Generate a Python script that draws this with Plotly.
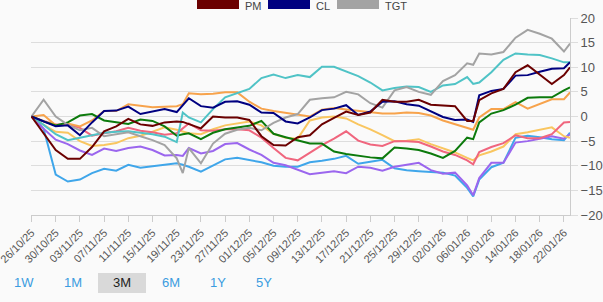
import plotly.graph_objects as go

dates = ["2025-10-26", "2025-10-28", "2025-10-30", "2025-11-01", "2025-11-03", "2025-11-05",
         "2025-11-07", "2025-11-09", "2025-11-11", "2025-11-13", "2025-11-15", "2025-11-17",
         "2025-11-19", "2025-11-20", "2025-11-21", "2025-11-23", "2025-11-25", "2025-11-27",
         "2025-11-29", "2025-12-01", "2025-12-03", "2025-12-05", "2025-12-07", "2025-12-09",
         "2025-12-11", "2025-12-13", "2025-12-15", "2025-12-17", "2025-12-19", "2025-12-21",
         "2025-12-23", "2025-12-25", "2025-12-27", "2025-12-29", "2025-12-31", "2026-01-02",
         "2026-01-04", "2026-01-06", "2026-01-07", "2026-01-08", "2026-01-10", "2026-01-12",
         "2026-01-14", "2026-01-16", "2026-01-18", "2026-01-20", "2026-01-22", "2026-01-23"]

pm = [0, -3.5, -6.8, -8.6, -8.6, -6.2, -3.0, -2.0, -0.5, -1.6, -1.9, -1.2, -1.0, -1.1, -1.5, -2.4,
      0.0, -0.2, -0.2, -0.7, -4.0, -5.8, -5.9, -4.2, -3.8, -1.6, -0.3, 1.0, 0.3, 0.8, 3.4, 3.0,
      3.0, 3.4, 2.4, 2.2, 2.1, -0.9, -0.9, 3.3, 4.7, 5.6, 9.0, 10.4, 8.5, 6.6, 8.4, 10.0]
cl = [0, -1.0, -2.0, -1.8, -3.8, -1.2, 1.1, 1.2, 2.0, 0.5, 1.0, 1.5, 0.9, 2.2, 3.7, 2.1,
      1.8, 3.0, 3.1, 2.4, 0.8, 0.7, -1.0, -1.4, -0.2, 1.3, 1.6, 2.3, 0.3, 1.0, 3.0, 3.1,
      2.5, 2.2, 1.0, -0.1, -0.7, -0.6, -1.1, 4.3, 5.2, 5.6, 8.3, 8.4, 9.1, 9.7, 9.8, 11.0]
tgt = [0, 3.4, 0.0, -1.7, -2.8, -2.3, -4.0, -3.6, -3.2, -4.0, -4.8, -5.8, -8.5, -11.5, -6.4, -9.5,
       -5.5, -3.5, -2.7, -2.3, -2.8, -1.3, -0.2, 0.5, 3.4, 3.7, 3.9, 5.0, 4.5, 2.7, 1.8, 5.3,
       6.0, 5.0, 4.4, 7.2, 8.4, 10.8, 10.5, 12.8, 12.6, 13.1, 16.0, 17.6, 16.8, 15.8, 13.2, 14.8]
teal = [0, -1.7, -3.6, -4.8, -4.3, -3.8, -3.3, -3.1, -3.0, -3.3, -3.6, -4.1, -5.2, 0.8, -0.2, -1.2,
        1.5, 3.9, 4.7, 5.6, 7.8, 8.5, 7.8, 8.4, 8.0, 10.1, 10.1, 9.1, 8.2, 6.9, 5.3, 5.8,
        6.1, 6.0, 5.0, 6.3, 6.6, 8.0, 6.6, 6.9, 9.0, 11.5, 12.8, 12.6, 12.5, 11.8, 11.0, 11.0]
green = [0, -1.0, -1.8, -1.2, 0.2, 0.5, -0.8, -1.2, -1.5, -0.6, -0.9, -2.0, -3.9, -3.6, -3.4, -4.6,
         -3.3, -2.6, -2.2, -1.9, -0.9, -3.5, -4.2, -4.9, -5.5, -5.5, -7.1, -7.6, -8.0, -8.3, -8.5, -6.3,
         -6.5, -6.8, -7.5, -8.4, -7.0, -4.3, -4.6, -1.2, 0.6, 1.3, 2.4, 3.8, 3.9, 3.9, 5.3, 5.9]
orange = [0, 0.3, -1.8, -1.4, -2.0, -0.8, 1.1, 1.1, 2.5, 2.2, 1.9, 2.0, 2.1, 2.5, 4.7, 4.5,
          4.6, 4.9, 4.9, 3.0, 1.6, 1.1, 0.7, 0.4, 0.0, 1.4, 1.7, 1.4, 1.1, 0.9, 0.6, 0.6,
          0.8, 0.7, 0.2, -0.8, -1.6, -2.4, -2.7, -0.2, 1.5, 1.5, 2.9, 1.6, 2.5, 3.5, 3.5, 4.9]
blue = [0, -2.5, -11.8, -13.2, -12.8, -11.5, -10.6, -11.0, -9.8, -10.4, -10.1, -9.8, -9.5, -9.8, -10.2, -11.2,
        -10.0, -8.7, -8.4, -8.8, -9.3, -10.0, -10.2, -10.2, -9.3, -9.0, -8.6, -8.0, -9.6, -9.2, -8.8, -10.5,
        -10.9, -11.1, -11.3, -11.4, -12.0, -14.5, -16.2, -12.8, -10.3, -9.4, -4.3, -3.9, -4.2, -4.6, -4.8, -3.3]
purple = [0, -2.5, -4.7, -5.6, -6.9, -7.8, -6.5, -7.0, -6.4, -6.1, -6.8, -7.9, -7.8, -8.0, -6.4, -7.5,
          -7.0, -5.6, -5.4, -6.7, -7.8, -9.4, -9.9, -10.8, -11.7, -11.4, -11.1, -11.5, -10.2, -10.4, -11.0, -10.2,
          -9.8, -9.4, -10.9, -11.6, -11.4, -14.0, -16.0, -12.5, -9.4, -9.4, -5.3, -5.0, -4.5, -4.0, -4.5, -3.6]
pink = [0, -0.9, -1.6, -1.6, -2.3, -3.9, -3.4, -3.0, -2.3, -2.9, -3.2, -3.7, -3.4, -2.4, -1.4, -2.8,
        -2.9, -2.6, -2.6, -2.8, -4.3, -6.4, -8.4, -8.9, -7.4, -5.8, -4.5, -3.0, -4.9, -5.7, -6.0, -5.0,
        -5.0, -5.2, -6.1, -7.1, -7.8, -8.9, -9.7, -7.2, -6.2, -5.4, -3.8, -4.4, -4.4, -3.6, -1.2, -1.1]
yellow = [0, -1.7, -3.1, -3.3, -5.0, -6.0, -5.8, -5.4, -4.4, -3.9, -3.1, -2.2, -2.7, -3.0, -3.4, -3.6,
          -2.6, -1.8, -1.4, -1.0, -1.8, -3.5, -4.3, -4.5, -0.8, -0.2, 0.0, -0.4, -1.6, -2.6, -3.8, -5.0,
          -4.9, -4.6, -5.6, -6.5, -7.3, -8.4, -8.9, -7.9, -7.1, -6.1, -3.6, -3.2, -2.7, -2.2, -4.0, -4.3]

series_names = ["Series 4", "Series 5", "Series 6", "Series 7", "Series 8", "Series 9", "Series 10", "TGT", "CL", "PM"]
series_values = [blue, purple, yellow, pink, orange, green, teal, tgt, cl, pm]
series_colors = ["#3fa6ea", "#9b66ee", "#f9c660", "#f0667e", "#f7a34c", "#0c7a0c", "#4fc3c6",
                 "#a3a3a3", "#000080", "#6b0000"]

legend_names = ["PM", "CL", "TGT"]
legend_colors = ["#6b0000", "#000080", "#a3a3a3"]

buttons = ["1W", "1M", "3M", "6M", "1Y", "5Y"]
selected_button = "3M"

W, H = 603, 302
ML, MR, MT, MB = 31, 33, 18, 87
PW, PH = W - ML - MR, H - MT - MB


def px_x(px):
    return (px - ML) / PW


def px_y(py):
    return (H - MB - py) / PH


fig = go.Figure()
for name, vals, col in zip(series_names, series_values, series_colors):
    fig.add_trace(go.Scatter(x=dates, y=vals, mode="lines", name=name,
                             line=dict(color=col, width=2), showlegend=False))

shapes = []
annotations = []
# legend (only the last row is visible in the reference)
leg_x = [197, 268, 337]
for lx, nm, col in zip(leg_x, legend_names, legend_colors):
    shapes.append(dict(type="rect", xref="paper", yref="paper",
                       x0=px_x(lx), x1=px_x(lx + 42), y0=px_y(9), y1=px_y(-1),
                       fillcolor=col, line=dict(width=0)))
    annotations.append(dict(text=nm, xref="paper", yref="paper", x=px_x(lx + 46), y=px_y(6),
                            xanchor="left", yanchor="middle", showarrow=False,
                            font=dict(size=11, color="#444444")))

# range buttons
btn_cx = [24, 73, 122, 171, 218, 264]
for cx, b in zip(btn_cx, buttons):
    if b == selected_button:
        shapes.append(dict(type="rect", xref="paper", yref="paper",
                           x0=px_x(98), x1=px_x(146), y0=px_y(293), y1=px_y(273),
                           fillcolor="#d9d9d9", line=dict(width=0)))
    annotations.append(dict(text=b, xref="paper", yref="paper", x=px_x(cx), y=px_y(282),
                            xanchor="center", yanchor="middle", showarrow=False,
                            font=dict(size=13, color="#222222" if b == selected_button else "#3a9ce0")))

fig.update_layout(
    width=W, height=H,
    margin=dict(l=ML, r=MR, t=MT, b=MB, autoexpand=False),
    paper_bgcolor="#fafafa", plot_bgcolor="#fafafa",
    font=dict(family="Liberation Sans, Arial, sans-serif", color="#555555"),
    showlegend=False,
    shapes=shapes,
    annotations=annotations,
    xaxis=dict(type="date", range=["2025-10-25 22:00", "2026-01-23"], tick0="2025-10-26",
               dtick=4 * 86400000, tickformat="%d/%m/%y", tickangle=-45,
               showgrid=False, showline=True, linecolor="#cccccc", linewidth=1,
               ticks="outside", ticklen=6, tickcolor="#cccccc", automargin=False,
               ticklabeloverflow="allow",
               tickfont=dict(size=11, color="#555555"), zeroline=False),
    yaxis=dict(side="right", range=[-20, 20], dtick=5, showgrid=True, gridcolor="#dddddd",
               gridwidth=1, zeroline=False, showline=True, linecolor="#cccccc",
               ticks="outside", ticklen=7, tickcolor="#dddddd", automargin=False,
               tickfont=dict(size=13, color="#555555")),
)

fig.write_html("out.html")
